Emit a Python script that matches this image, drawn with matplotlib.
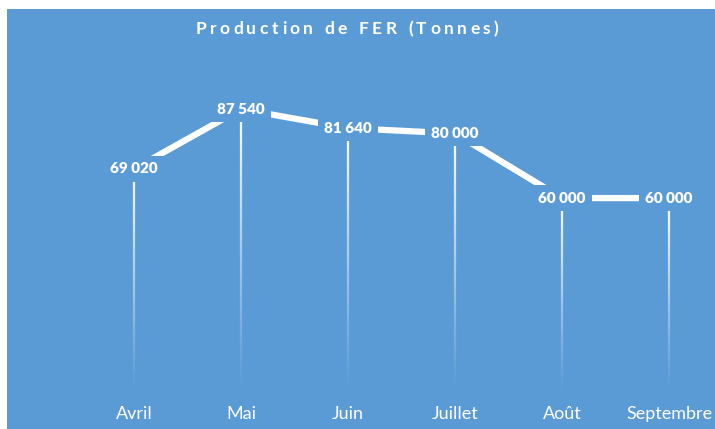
import matplotlib
matplotlib.use("Agg")
import matplotlib.pyplot as plt
import numpy as np
from matplotlib.collections import LineCollection
from matplotlib.patches import Rectangle

# data
months = ["Avril", "Mai", "Juin", "Juillet", "Août", "Septembre"]
tonnes = [69020, 87540, 81640, 80000, 60000, 60000]

BLUE = "#5b9bd5"
W, H = 715, 429

plt.rcParams["font.family"] = ["Lato", "DejaVu Sans"]

fig = plt.figure(figsize=(W / 100, H / 100), dpi=100, facecolor="white")
# blue chart area
fig.patches.append(Rectangle((7 / W, 0), 1 - 7 / W, 1 - 9 / H,
                             transform=fig.transFigure, facecolor=BLUE,
                             edgecolor="none", zorder=-10))

ax = fig.add_axes([0, 37 / H, 1, 392 / H])
ax.set_facecolor("none")
ax.set_xlim(-134 / 107, (W - 134) / 107)
ax.set_ylim(0, 392 / 0.003232)
for s in ax.spines.values():
    s.set_visible(False)
ax.set_yticks([])
ax.set_xticks(range(len(months)), months)
ax.tick_params(axis="x", length=0, pad=10, labelsize=13, labelcolor="white")

x = np.arange(len(months))

# fading drop lines
n = 80
for xi, v in zip(x, tonnes):
    ys = np.linspace(v, 0, n + 1)
    segs = [[(xi, ys[k]), (xi, ys[k + 1])] for k in range(n)]
    alphas = np.linspace(1, 0, n) ** 1.1
    cols = [(1, 1, 1, a) for a in alphas]
    ax.add_collection(LineCollection(segs, colors=cols, linewidths=1.6, zorder=2))

ax.plot(x, tonnes, color="white", lw=4.5, solid_capstyle="butt", zorder=3)

for xi, v in zip(x, tonnes):
    lbl = f"{v:,}".replace(",", " ")
    ax.text(xi, v, lbl, ha="center", va="center", color="white",
            fontsize=11, fontweight="heavy", zorder=4,
            bbox=dict(boxstyle="square,pad=0.42", facecolor=BLUE, edgecolor="none"))

# title with letter spacing
title = "Production de FER (Tonnes)"
renderer = fig.canvas.get_renderer()
tsize = 12.5
tracking = 3.5
widths = []
for ch in title:
    t = fig.text(0, 0, ch if ch != " " else "a", fontsize=tsize, fontweight="bold")
    w = t.get_window_extent(renderer).width
    if ch == " ":
        w *= 0.5
    widths.append(w)
    t.remove()
total = sum(widths) + tracking * (len(title) - 1)
px = 347 - total / 2
for ch, w in zip(title, widths):
    fig.text(px / W, 1 - 29 / H, ch, fontsize=tsize, fontweight="bold",
             color="white", ha="left", va="center")
    px += w + tracking

fig.savefig("out.png", dpi=100, facecolor="white")
